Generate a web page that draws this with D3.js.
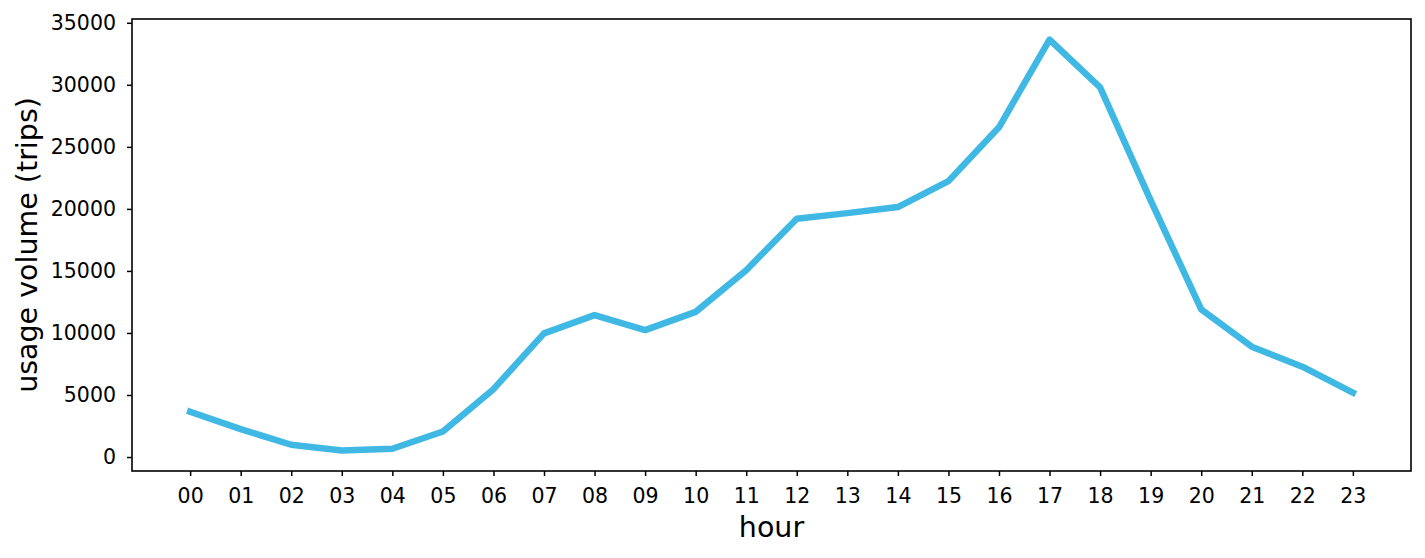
<!DOCTYPE html>
<html>
<head>
<meta charset="utf-8">
<script src="https://cdn.jsdelivr.net/npm/d3@7"></script>
<style>
  body { margin: 0; background: #fff; }
  svg text { font-family: "DejaVu Sans", sans-serif; fill: #000; }
</style>
</head>
<body>
<div id="chart"></div>
<script>
// hourly usage volume
var hours = ['00', '01', '02', '03', '04', '05', '06', '07', '08', '09', '10', '11',
             '12', '13', '14', '15', '16', '17', '18', '19', '20', '21', '22', '23'];
var trips = [3650, 2250, 990, 530, 670, 2060, 5470, 9970, 11440, 10230, 11700, 15060,
             19210, 19660, 20150, 22240, 26580, 33650, 29800, 20690, 11900, 8890, 7280, 5190];
var yTicks = [0, 5000, 10000, 15000, 20000, 25000, 30000, 35000];

var WIDTH = 1425, HEIGHT = 558;
var margin = {top: 19, right: 14, bottom: 87, left: 132};
var plotW = WIDTH - margin.left - margin.right;
var plotH = HEIGHT - margin.top - margin.bottom;

var svg = d3.select('#chart').append('svg')
    .attr('width', WIDTH)
    .attr('height', HEIGHT);

var g = svg.append('g')
    .attr('transform', 'translate(' + margin.left + ',' + margin.top + ')');

// x: categorical hours, matplotlib-like 5% margins
var x = d3.scalePoint()
    .domain(hours)
    .range([0, plotW])
    .padding(1.15);

// y: data extent plus 5% margins
var lo = d3.min(trips), hi = d3.max(trips);
var pad = (hi - lo) * 0.05;
var y = d3.scaleLinear()
    .domain([lo - pad, hi + pad])
    .range([plotH, 0]);

var line = d3.line()
    .x(function(d, i) { return x(hours[i]); })
    .y(function(d) { return y(d); });

g.append('path')
    .datum(trips)
    .attr('fill', 'none')
    .attr('stroke', '#40b8e4')
    .attr('stroke-width', 6.5)
    .attr('stroke-linejoin', 'round')
    .attr('stroke-linecap', 'square')
    .attr('d', line);

// axes
var xAxis = g.append('g')
    .attr('transform', 'translate(0,' + plotH + ')')
    .call(d3.axisBottom(x).tickSize(5).tickPadding(12));
var yAxis = g.append('g')
    .call(d3.axisLeft(y).tickValues(yTicks).tickFormat(d3.format('d')).tickSize(5).tickPadding(11));

[xAxis, yAxis].forEach(function(ax) {
    ax.select('.domain').remove();
    ax.selectAll('.tick line').attr('stroke', '#000').attr('stroke-width', 1.5);
    ax.selectAll('.tick text')
        .style('font-family', '"DejaVu Sans", sans-serif')
        .style('font-size', '20.5px')
        .attr('fill', '#000');
});

// frame
g.append('rect')
    .attr('width', plotW)
    .attr('height', plotH)
    .attr('fill', 'none')
    .attr('stroke', '#000')
    .attr('stroke-width', 1.6);

// axis labels
svg.append('text')
    .attr('x', margin.left + plotW / 2)
    .attr('y', 537)
    .attr('text-anchor', 'middle')
    .style('font-size', '28.5px')
    .text('hour');

svg.append('text')
    .attr('transform', 'translate(37,' + (margin.top + plotH / 2) + ') rotate(-90)')
    .attr('text-anchor', 'middle')
    .style('font-size', '28.5px')
    .text('usage volume (trips)');
</script>
</body>
</html>
